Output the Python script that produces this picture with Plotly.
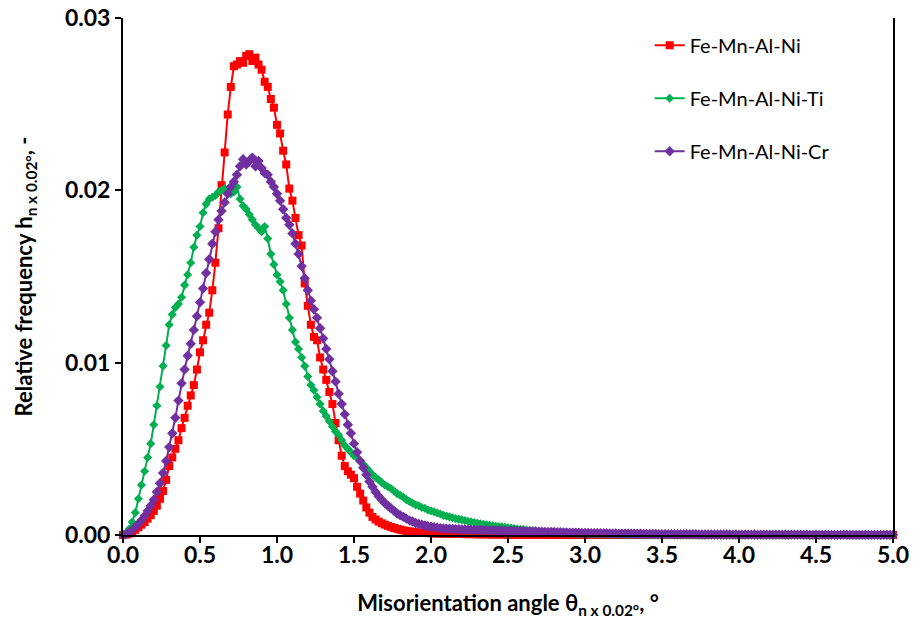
import plotly.graph_objects as go

# bins of 0.02 deg, 0 .. 5 deg
angle = [round(n * 0.02, 2) for n in range(251)]

# relative frequency, in units of 1e-3 (10 bins per row)
ni = [
    0.00, 0.02, 0.08, 0.15, 0.30, 0.45, 0.60, 0.75, 0.95, 1.15,
    1.40, 1.70, 2.10, 2.55, 3.20, 4.00, 4.50, 5.00, 5.50, 6.20,
    6.80, 7.50, 8.10, 8.70, 9.60, 10.6, 11.3, 12.2, 12.9, 14.2,
    15.8, 17.8, 20.3, 22.2, 24.4, 26.0, 27.2, 27.3, 27.5, 27.4,
    27.8, 27.9, 27.5, 27.7, 27.3, 27.0, 26.3, 26.0, 25.3, 24.8,
    23.8, 23.3, 22.3, 21.5, 20.1, 19.4, 18.4, 17.4, 16.8, 14.6,
    13.3, 12.2, 11.5, 11.3, 10.3, 9.6, 9.0, 8.3, 7.6, 6.5,
    5.5, 4.6, 4.0, 3.7, 3.5, 3.3, 2.8, 2.4, 2.0, 1.6,
    1.30, 1.05, 0.90, 0.78, 0.68, 0.60, 0.53, 0.47, 0.41, 0.36,
    0.31, 0.27, 0.24, 0.21, 0.18, 0.16, 0.14, 0.13, 0.12, 0.11,
    0.10, 0.09, 0.09, 0.08, 0.08, 0.07, 0.07, 0.07, 0.06, 0.06,
    0.06, 0.05, 0.05, 0.05, 0.05, 0.04, 0.04, 0.04, 0.04, 0.03,
    0.03, 0.03, 0.03, 0.03, 0.02, 0.02, 0.02, 0.02, 0.02, 0.02,
    0.02, 0.02, 0.02, 0.01, 0.02, 0.01, 0.01, 0.02, 0.01, 0.01,
    0.01, 0.01, 0.01, 0.01, 0.00, 0.01, 0.01, 0.00, 0.01, 0.00,
    0.01, 0.00, 0.00, 0.01, 0.00, 0.00, 0.00, 0.01, 0.00, 0.00,
    0.00, 0.00, 0.00, 0.00, 0.00, 0.00, 0.00, 0.00, 0.00, 0.00,
    0.00, 0.00, 0.00, 0.00, 0.00, 0.00, 0.00, 0.00, 0.00, 0.00,
    0.00, 0.00, 0.00, 0.00, 0.00, 0.00, 0.00, 0.00, 0.00, 0.00,
    0.00, 0.00, 0.00, 0.00, 0.00, 0.00, 0.00, 0.00, 0.00, 0.00,
    0.00, 0.00, 0.00, 0.00, 0.00, 0.00, 0.00, 0.00, 0.00, 0.00,
    0.00, 0.00, 0.00, 0.00, 0.00, 0.00, 0.00, 0.00, 0.00, 0.00,
    0.00, 0.00, 0.00, 0.00, 0.00, 0.00, 0.00, 0.00, 0.00, 0.00,
    0.00, 0.00, 0.00, 0.00, 0.00, 0.00, 0.00, 0.00, 0.00, 0.00,
    0.00, 0.00, 0.00, 0.00, 0.00, 0.00, 0.00, 0.00, 0.00, 0.00,
    0.00,
]

ti = [
    0.00, 0.10, 0.35, 0.75, 1.30, 2.10, 2.90, 3.70, 4.50, 5.30,
    6.40, 7.50, 8.60, 9.80, 11.0, 12.2, 12.8, 13.2, 13.4, 13.8,
    14.5, 15.1, 15.8, 16.7, 17.4, 17.9, 18.7, 19.2, 19.5, 19.6,
    19.7, 19.9, 20.0, 20.1, 19.9, 19.8, 19.9, 20.2, 19.5, 19.1,
    18.9, 18.6, 18.3, 18.0, 17.8, 17.6, 17.9, 17.2, 16.3, 15.7,
    15.1, 14.7, 14.2, 13.4, 12.6, 11.9, 11.2, 10.8, 10.3, 9.8,
    9.2, 8.7, 8.4, 8.0, 7.6, 7.2, 6.9, 6.6, 6.3, 6.0,
    5.8, 5.5, 5.2, 5.0, 4.8, 4.6, 4.5, 4.3, 4.1, 3.9,
    3.70, 3.50, 3.35, 3.20, 3.05, 2.90, 2.80, 2.70, 2.55, 2.40,
    2.30, 2.20, 2.05, 1.95, 1.85, 1.75, 1.70, 1.60, 1.55, 1.45,
    1.40, 1.35, 1.28, 1.22, 1.15, 1.10, 1.05, 1.00, 0.95, 0.92,
    0.88, 0.84, 0.80, 0.76, 0.72, 0.68, 0.65, 0.62, 0.59, 0.56,
    0.53, 0.51, 0.49, 0.47, 0.45, 0.42, 0.40, 0.37, 0.35, 0.33,
    0.31, 0.29, 0.27, 0.25, 0.23, 0.21, 0.19, 0.18, 0.16, 0.15,
    0.14, 0.13, 0.12, 0.11, 0.10, 0.09, 0.08, 0.08, 0.07, 0.07,
    0.06, 0.06, 0.05, 0.05, 0.05, 0.04, 0.04, 0.04, 0.03, 0.03,
    0.03, 0.03, 0.03, 0.02, 0.02, 0.02, 0.02, 0.02, 0.02, 0.01,
    0.02, 0.01, 0.01, 0.01, 0.01, 0.01, 0.01, 0.01, 0.01, 0.01,
    0.01, 0.01, 0.01, 0.00, 0.01, 0.01, 0.00, 0.01, 0.00, 0.01,
    0.00, 0.01, 0.00, 0.00, 0.01, 0.00, 0.00, 0.00, 0.01, 0.00,
    0.00, 0.00, 0.00, 0.00, 0.00, 0.00, 0.00, 0.00, 0.00, 0.00,
    0.00, 0.00, 0.00, 0.00, 0.00, 0.00, 0.00, 0.00, 0.00, 0.00,
    0.00, 0.00, 0.00, 0.00, 0.00, 0.00, 0.00, 0.00, 0.00, 0.00,
    0.00, 0.00, 0.00, 0.00, 0.00, 0.00, 0.00, 0.00, 0.00, 0.00,
    0.00, 0.00, 0.00, 0.00, 0.00, 0.00, 0.00, 0.00, 0.00, 0.00,
    0.00,
]

cr = [
    0.00, 0.05, 0.15, 0.30, 0.45, 0.65, 0.85, 1.10, 1.40, 1.70,
    2.05, 2.50, 3.00, 3.60, 4.30, 5.10, 5.90, 6.80, 7.80, 8.80,
    9.6, 10.4, 11.1, 11.9, 12.7, 13.5, 14.3, 15.2, 16.0, 16.9,
    17.6, 18.3, 18.8, 19.3, 19.8, 20.2, 20.5, 20.9, 21.4, 21.8,
    21.5, 21.7, 21.9, 21.4, 21.7, 21.3, 21.0, 20.9, 20.5, 20.2,
    19.8, 19.4, 18.9, 18.4, 18.0, 17.5, 16.9, 16.3, 15.6, 14.9,
    14.2, 13.6, 13.1, 12.6, 12.0, 11.4, 10.8, 10.2, 9.5, 8.9,
    8.2, 7.6, 7.0, 6.4, 5.9, 5.3, 4.8, 4.3, 3.9, 3.5,
    3.10, 2.80, 2.50, 2.25, 2.05, 1.85, 1.70, 1.55, 1.40, 1.25,
    1.15, 1.05, 0.95, 0.85, 0.78, 0.70, 0.64, 0.60, 0.55, 0.51,
    0.48, 0.45, 0.42, 0.40, 0.38, 0.37, 0.36, 0.35, 0.34, 0.33,
    0.32, 0.32, 0.31, 0.30, 0.30, 0.29, 0.29, 0.28, 0.28, 0.27,
    0.27, 0.26, 0.26, 0.25, 0.25, 0.24, 0.24, 0.23, 0.23, 0.22,
    0.22, 0.21, 0.21, 0.20, 0.20, 0.19, 0.19, 0.18, 0.18, 0.17,
    0.17, 0.16, 0.16, 0.15, 0.15, 0.14, 0.14, 0.13, 0.13, 0.12,
    0.12, 0.12, 0.11, 0.11, 0.11, 0.10, 0.10, 0.10, 0.09, 0.09,
    0.09, 0.08, 0.08, 0.08, 0.08, 0.07, 0.07, 0.07, 0.07, 0.06,
    0.06, 0.06, 0.06, 0.06, 0.05, 0.05, 0.05, 0.05, 0.05, 0.05,
    0.04, 0.04, 0.04, 0.04, 0.04, 0.04, 0.04, 0.03, 0.03, 0.03,
    0.03, 0.03, 0.03, 0.03, 0.03, 0.03, 0.03, 0.03, 0.02, 0.03,
    0.02, 0.02, 0.02, 0.02, 0.02, 0.03, 0.02, 0.02, 0.02, 0.02,
    0.02, 0.02, 0.02, 0.02, 0.02, 0.02, 0.01, 0.02, 0.02, 0.02,
    0.02, 0.01, 0.02, 0.01, 0.01, 0.02, 0.01, 0.01, 0.01, 0.01,
    0.01, 0.01, 0.01, 0.01, 0.02, 0.01, 0.01, 0.01, 0.01, 0.01,
    0.01, 0.01, 0.01, 0.01, 0.01, 0.01, 0.00, 0.01, 0.01, 0.01,
    0.01,
]

series = [
    ("Fe-Mn-Al-Ni", ni, "#FF0000", "square", 8),
    ("Fe-Mn-Al-Ni-Ti", ti, "#00B050", "diamond", 7),
    ("Fe-Mn-Al-Ni-Cr", cr, "#7030A0", "diamond", 8),
]

FONT = "Lato"

fig = go.Figure()
for i, (name, vals, color, symbol, size) in enumerate(series):
    assert len(vals) == len(angle), name
    fig.add_trace(go.Scatter(
        x=angle, y=[v * 1e-3 for v in vals], name=name, mode="lines+markers",
        line=dict(color=color, width=2),
        marker=dict(color=color, symbol=symbol, size=size),
        cliponaxis=False, legendgroup=str(i),
    ))

fig.update_layout(
    width=915, height=623,
    margin=dict(l=123, r=22, t=18, b=88),
    plot_bgcolor="white", paper_bgcolor="white",
    font=dict(family=FONT, color="black"),
    showlegend=True,
    legend=dict(
        x=0.684, y=0.985, xanchor="left", yanchor="top",
        font=dict(size=20, family=FONT), traceorder="grouped",
        tracegroupgap=24, bgcolor="rgba(0,0,0,0)",
    ),
)
fig.update_xaxes(
    range=[0, 5], dtick=0.5, tickformat=".1f", automargin=False,
    showline=True, linecolor="black", linewidth=2,
    ticks="outside", ticklen=6, tickwidth=2, tickcolor="black",
    ticklabelstandoff=-8, ticklabeloverflow="allow",
    showgrid=False, zeroline=False,
    tickfont=dict(size=23, family=FONT, weight="bold"),
    title=dict(text="Misorientation angle θ<sub>n x 0.02°</sub>, °",
               font=dict(size=22, family=FONT, weight="bold"), standoff=29),
)
fig.update_yaxes(
    range=[0, 0.03], dtick=0.01, tickformat=".2f", automargin=False,
    showline=True, linecolor="black", linewidth=2, mirror=True,
    ticks="outside", ticklen=6, tickwidth=2, tickcolor="black",
    ticklabeloverflow="allow",
    showgrid=False, zeroline=False,
    tickfont=dict(size=23, family=FONT, weight="bold"),
    title=dict(text="Relative frequency h<sub>n x 0.02°</sub>, -",
               font=dict(size=22, family=FONT, weight="bold"), standoff=26),
)

# drop the default 8 px body margin so the figure fills the window exactly
fig.write_html("out.html", config={"displayModeBar": False},
               post_script="document.body.style.margin = '0';")
